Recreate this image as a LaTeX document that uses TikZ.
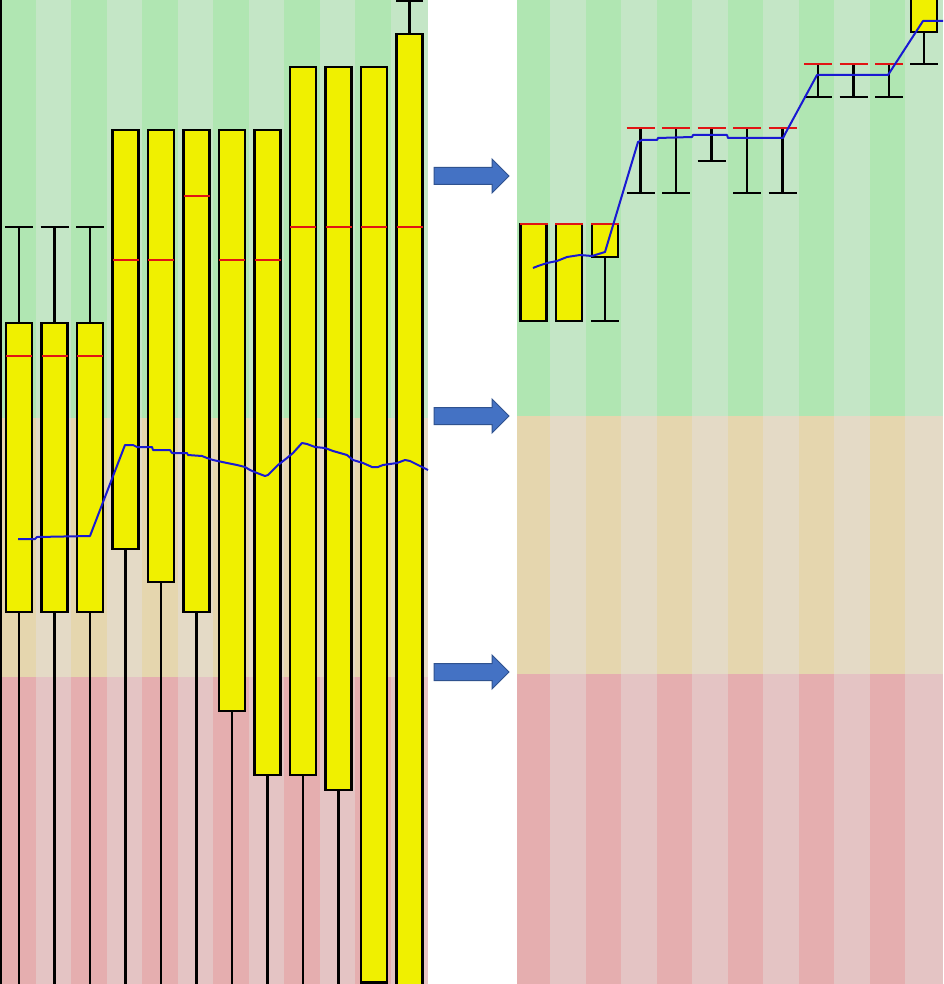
\documentclass[tikz,border=0pt]{standalone}
\usetikzlibrary{calc}
\definecolor{gD}{RGB}{176,230,178}
\definecolor{gL}{RGB}{196,230,198}
\definecolor{bD}{RGB}{229,214,174}
\definecolor{bL}{RGB}{228,218,198}
\definecolor{rD}{RGB}{229,174,175}
\definecolor{rL}{RGB}{228,196,196}
\definecolor{boxY}{RGB}{240,240,0}
\definecolor{medR}{RGB}{225,20,20}
\definecolor{lineB}{RGB}{25,25,210}
\definecolor{arrF}{RGB}{68,114,196}
\definecolor{arrE}{RGB}{47,82,143}
\tikzset{
  bx/.style={draw=black, fill=boxY, line width=2.6pt},
  wk/.style={draw=black, line width=2.4pt},
  med/.style={draw=medR, line width=2.2pt},
  trend/.style={draw=lineB, line width=2pt, line join=round},
  bigarrow/.style={fill=arrF, draw=arrE, line width=1pt, line join=miter}
}
\begin{document}
\begin{tikzpicture}[x=1pt,y=-1pt]
\useasboundingbox (0,0) rectangle (943,984);
\fill[white] (0,0) rectangle (943,984);
% ---------- left panel background ----------
\fill[gL] (0,0) rectangle (428,418);
\fill[bL] (0,418) rectangle (428,677);
\fill[rL] (0,677) rectangle (428,984);
\foreach \i in {0,2,...,10}{
  \fill[gD] (\i*35.5,0) rectangle (\i*35.5+35.5,418);
  \fill[bD] (\i*35.5,418) rectangle (\i*35.5+35.5,677);
  \fill[rD] (\i*35.5,677) rectangle (\i*35.5+35.5,984);
}
% ---------- right panel background ----------
\fill[gL] (517,0) rectangle (943,416);
\fill[bL] (517,416) rectangle (943,674);
\fill[rL] (517,674) rectangle (943,984);
\fill[gD] (517,0) rectangle (550,416);
\fill[bD] (517,416) rectangle (550,674);
\fill[rD] (517,674) rectangle (550,984);
\foreach \k in {1,...,5}{
  \fill[gD] (514.5+71*\k,0) rectangle (550+71*\k,416);
  \fill[bD] (514.5+71*\k,416) rectangle (550+71*\k,674);
  \fill[rD] (514.5+71*\k,674) rectangle (550+71*\k,984);
}
% ---------- left axis ----------
\draw[wk] (1,0) -- (1,984);
% ---------- left panel boxes ----------
% columns 1-3 with upper whisker
\foreach \c in {19,54.5,90}{
  \draw[wk] (\c-14,227) -- (\c+14,227);
  \draw[wk] (\c,227) -- (\c,323);
  \draw[wk] (\c,612) -- (\c,984);
  \draw[bx] (\c-13,323) rectangle (\c+13,612);
  \draw[med] (\c-13,356) -- (\c+13,356);
}
% columns 4-10 (center / top / median / bottom)
\foreach \c/\t/\m/\b in {125.5/130/260/549, 161/130/260/582, 196.5/130/196/612,
                          232/130/260/711, 267.5/130/260/775, 303/67/227/775,
                          338.5/67/227/790}{
  \draw[wk] (\c,\b) -- (\c,984);
  \draw[bx] (\c-13,\t) rectangle (\c+13,\b);
  \draw[med] (\c-13,\m) -- (\c+13,\m);
}
% column 11
\draw[bx] (374-13,67) rectangle (374+13,982.5);
\draw[med] (374-13,227) -- (374+13,227);
% column 12
\draw[wk] (409.5-13.5,1) -- (409.5+13.5,1);
\draw[wk] (409.5,1) -- (409.5,34);
\draw[bx] (409.5-13,34) rectangle (409.5+13,990);
\draw[med] (409.5-13,227) -- (409.5+13,227);
% left trend line
\draw[trend] (18,539) -- (35,539) -- (37,537) -- (90,536) -- (125,445) -- (133,445)
  -- (137,447) -- (152,447) -- (153,450) -- (170,450) -- (172,453) -- (187,453)
  -- (188,455) -- (202,456) -- (207,458) -- (213,460) -- (227,463) -- (237,465)
  -- (245,467) -- (250,470) -- (257,473) -- (265,476) -- (268,475) -- (278,465)
  -- (287,458) -- (293,453) -- (302,443) -- (307,444) -- (315,447) -- (325,448)
  -- (333,451) -- (347,455) -- (353,460) -- (363,463) -- (372,467) -- (378,467)
  -- (383,465) -- (397,463) -- (405,460) -- (410,461) -- (422,467) -- (428,470);
% ---------- arrows ----------
\foreach \y in {176,416,672}{
  \draw[bigarrow] (434,\y-8.5) -- (492,\y-8.5) -- (492,\y-17) -- (509,\y)
     -- (492,\y+17) -- (492,\y+8.5) -- (434,\y+8.5) -- cycle;
}
% ---------- right panel ----------
\foreach \c in {533.5,569}{
  \draw[bx] (\c-13,224) rectangle (\c+13,321);
  \draw[med] (\c-14,224) -- (\c+14,224);
}
\draw[wk] (605,257) -- (605,321);
\draw[wk] (605-14,321) -- (605+14,321);
\draw[bx] (605-13,224) rectangle (605+13,257);
\draw[med] (605-14,224) -- (605+14,224);
\foreach \c/\b in {640.5/193, 676/193, 711.5/161, 747/193, 782.5/193}{
  \draw[wk] (\c,128) -- (\c,\b);
  \draw[wk] (\c-14,\b) -- (\c+14,\b);
  \draw[med] (\c-14,128) -- (\c+14,128);
}
\foreach \c in {818,853.5,889}{
  \draw[wk] (\c,64) -- (\c,97);
  \draw[wk] (\c-14,97) -- (\c+14,97);
  \draw[med] (\c-14,64) -- (\c+14,64);
}
\draw[wk] (924,32) -- (924,64);
\draw[wk] (924-14,64) -- (924+14,64);
\draw[bx] (924-13,-5) rectangle (924+13,32);
% right trend line
\draw[trend] (533,268) -- (538,266) -- (547,263) -- (557,261) -- (567,257) -- (580,255)
  -- (592,256) -- (605,252) -- (638,142) -- (642,140) -- (657,140) -- (658,138)
  -- (692,137) -- (693,135) -- (727,135) -- (728,138) -- (783,138) -- (785,134)
  -- (817,75) -- (888,75) -- (923,21) -- (943,21);
\end{tikzpicture}
\end{document}
